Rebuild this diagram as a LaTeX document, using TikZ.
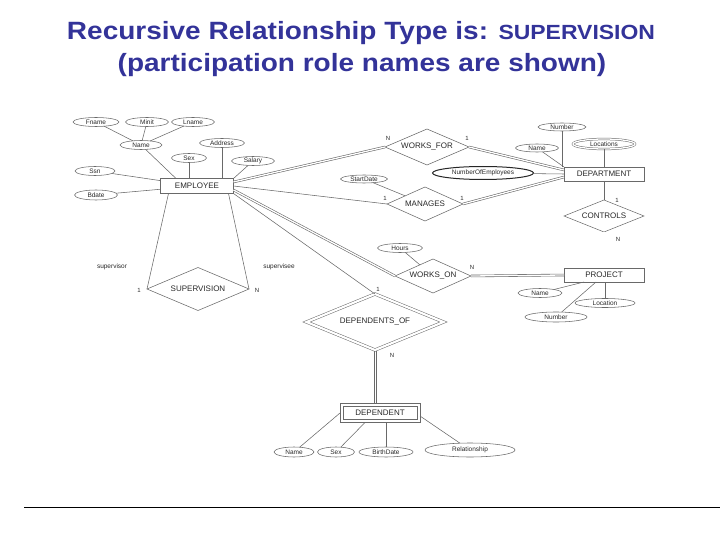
\documentclass[tikz,border=0pt]{standalone}
\usepackage{fontspec}
\usepackage{graphicx}
\setmainfont{Liberation Sans}
\usetikzlibrary{shapes.geometric,calc}
\definecolor{titleblue}{RGB}{51,51,153}
\definecolor{lc}{RGB}{105,105,105}
\definecolor{tc}{RGB}{40,40,40}
\begin{document}
\begin{tikzpicture}[x=1pt,y=-1pt,
  attr/.style={ellipse, draw=lc, line width=0.55pt, inner sep=0pt, outer sep=0pt, minimum height=9pt, text=tc, font=\fontsize{6.5}{7}\selectfont},
  ent/.style={rectangle, draw=lc, line width=0.55pt, inner sep=0pt, outer sep=0pt, minimum height=14pt, text=tc, font=\fontsize{8}{9}\selectfont},
  rel/.style={diamond, draw=lc, line width=0.55pt, inner sep=0pt, outer sep=0pt, shape aspect=3},
  rtext/.style={font=\fontsize{8}{9}\selectfont, inner sep=0pt, text=tc},
  card/.style={font=\fontsize{6}{7}\selectfont, inner sep=0pt, text=tc},
  role/.style={font=\fontsize{6.5}{7}\selectfont, inner sep=0pt, text=tc},
  conn/.style={draw=lc, line width=0.55pt},
  dbl/.style={draw=lc, line width=0.6pt, double=white, double distance=1.3pt},
  ttl/.style={anchor=base, inner sep=0pt, text=titleblue, font=\bfseries\fontsize{25}{30}\selectfont}
]
\useasboundingbox (0,0) rectangle (720,540);

% title
\node[ttl] (t1) at (361,40) {\scalebox{1.12}[1]{Recursive Relationship Type is: {\fontsize{20.5}{24}\selectfont SUPERVISION}}};
\node[ttl] (t2) at (362,72) {\scalebox{1.12}[1]{(participation role names are shown)}};

% bottom rule
\draw[line width=1pt, black] (24,507) -- (720,507);

% EMPLOYEE and its attributes
\node[ent, minimum width=73pt, minimum height=15pt] (employee) at (197,186) {EMPLOYEE};
\node[attr, minimum width=46pt] (fname) at (96,122) {Fname};
\node[attr, minimum width=43pt] (minit) at (147,122) {Minit};
\node[attr, minimum width=43pt] (lname) at (193,122) {Lname};
\node[attr, minimum width=42pt] (ename) at (141,145) {Name};
\node[attr, minimum width=45pt] (address) at (222,143) {Address};
\node[attr, minimum width=35pt] (esex) at (189,158) {Sex};
\node[attr, minimum width=43pt] (salary) at (253,161) {Salary};
\node[attr, minimum width=40pt] (ssn) at (95,171) {Ssn};
\node[attr, minimum width=43pt, minimum height=10pt] (bdate) at (96,195) {Bdate};

\draw[conn] (fname) -- (ename);
\draw[conn] (minit) -- (ename);
\draw[conn] (lname) -- (ename);
\draw[conn] (ename) -- ([xshift=-21pt]employee.north);
\draw[conn] (esex.south) -- (esex.south |- employee.north);
\draw[conn] (address.south) -- (address.south |- employee.north);
\draw[conn] (salary) -- (employee.north east);
\draw[conn] (ssn) -- (employee);
\draw[conn] (bdate) -- (employee);

% DEPARTMENT and its attributes
\node[ent, minimum width=80pt] (department) at (604,174) {DEPARTMENT};
\node[attr, minimum width=48pt, minimum height=8pt] (number) at (562,127) {Number};
\node[attr, minimum width=43pt, minimum height=8pt] (dname) at (537,148) {Name};
\node[attr, minimum width=62pt, minimum height=10pt, double, double distance=1.3pt, line width=0.5pt] (locations) at (604,144) {Locations};
\node[attr, minimum width=101pt, minimum height=13pt, draw=black!85, line width=1pt] (noe) at (483,173) {NumberOfEmployees};
\node[attr, minimum width=47pt, minimum height=8pt] (startdate) at (364,179) {StartDate};

\draw[conn] (number.south) -- (number.south |- department.north);
\draw[conn] (dname) -- (department.north west);
\draw[conn] (locations.south) -- (locations.south |- department.north);
\draw[conn] (noe) -- (department.west);

% relationships
\node[rel, minimum width=84pt, minimum height=36pt] (wf) at (427,147) {};
\node[rtext] (wft) at (wf) {WORKS\_FOR};
\node[rel, minimum width=76pt, minimum height=34pt] (man) at (425,204) {};
\node[rtext] (mant) at (man) {MANAGES};
\node[rel, minimum width=80pt, minimum height=32pt] (controls) at (604,216) {};
\node[rtext] (controlst) at (controls) {CONTROLS};
\node[rel, minimum width=76pt, minimum height=34pt] (won) at (433,276) {};
\node[rtext] (wont) at (won) {WORKS\_ON};
\node[rel, minimum width=137pt, minimum height=56pt, double, double distance=2.2pt, line width=0.5pt] (depof) at (375,322) {};
\node[rtext] (depoft) at (depof) {DEPENDENTS\_OF};
\node[rel, minimum width=102pt, minimum height=43pt] (sup) at (198,289) {};
\node[rtext] (supt) at (sup) {SUPERVISION};

% PROJECT
\node[ent, minimum width=80pt] (project) at (604,275) {PROJECT};
\node[attr, minimum width=44pt] (pname) at (540,293) {Name};
\node[attr, minimum width=60pt] (location) at (605,303) {Location};
\node[attr, minimum width=62pt, minimum height=10pt] (pnumber) at (556,317) {Number};
\node[attr, minimum width=45pt] (hours) at (400,248) {Hours};

\draw[conn] (pname) -- ([xshift=-20pt]project.south);
\draw[conn] (location.north) -- (location.north |- project.south);
\draw[conn] (pnumber) -- ([xshift=-8pt]project.south);

% DEPENDENT (weak entity: double box)
\node[ent, minimum width=80pt, minimum height=19pt] (dependent) at (380,413) {DEPENDENT};
\node[draw=lc, line width=0.55pt, inner sep=0pt, outer sep=0pt, minimum width=74pt, minimum height=13pt] (dependentin) at (dependent) {};
\node[attr, minimum width=40pt, minimum height=10pt] (dname2) at (294,452) {Name};
\node[attr, minimum width=37pt, minimum height=10pt] (dsex) at (336,452) {Sex};
\node[attr, minimum width=54pt, minimum height=10pt] (bdate2) at (386,452) {BirthDate};
\node[attr, minimum width=90pt, minimum height=14pt] (relationship) at (470,450) {Relationship};

\draw[conn] (dname2) -- (dependent.west);
\draw[conn] (dsex) -- ([xshift=-15pt]dependent.south);
\draw[conn] (bdate2.north) -- (bdate2.north |- dependent.south);
\draw[conn] (relationship) -- ([yshift=-3pt]dependent.east);

% relationship connectors
\draw[dbl] ([yshift=4pt]employee.east) -- (wf.west);
\draw[dbl] (wf.east) -- ([yshift=4pt]department.west);
\draw[conn] (employee.east) -- (man.west);
\draw[dbl] (man.east) -- ([yshift=-3pt]department.west);
\draw[conn] (startdate) -- (man);
\draw[conn] (department) -- (controls);
\draw[dbl] (controls) -- (project);
\draw[dbl] ([yshift=-4pt]employee.east) -- (won.west);
\draw[dbl] (won.east) -- (project.west);
\draw[conn] (hours) -- (won);
\draw[conn] (employee.south east) -- (depof.north);
\coordinate (dbot) at ([yshift=-1pt]depof.south);
\coordinate (dtop) at (dbot |- dependent.north);
\draw[conn] ([xshift=-1pt]dbot) -- ([xshift=-1pt]dtop);
\draw[conn] ([xshift=1pt]dbot) -- ([xshift=1pt]dtop);
\draw[conn] ([xshift=8pt]employee.south west) -- (sup.west);
\draw[conn] ([xshift=-5pt]employee.south east) -- (sup.east);

% cardinalities and roles
\node[card] (c1) at (388,138) {N};
\node[card] (c2) at (467,138) {1};
\node[card] (c3) at (385,198) {1};
\node[card] (c4) at (462,198) {1};
\node[card] (c5) at (617,200) {1};
\node[card] (c6) at (618,239) {N};
\node[card] (c7) at (472,267) {N};
\node[card] (c8) at (378,289) {1};
\node[card] (c9) at (392,355) {N};
\node[card] (c10) at (139,290) {1};
\node[card] (c11) at (257,290) {N};
\node[role] (r1) at (112,267) {supervisor};
\node[role] (r2) at (279,267) {supervisee};
\end{tikzpicture}
\end{document}
